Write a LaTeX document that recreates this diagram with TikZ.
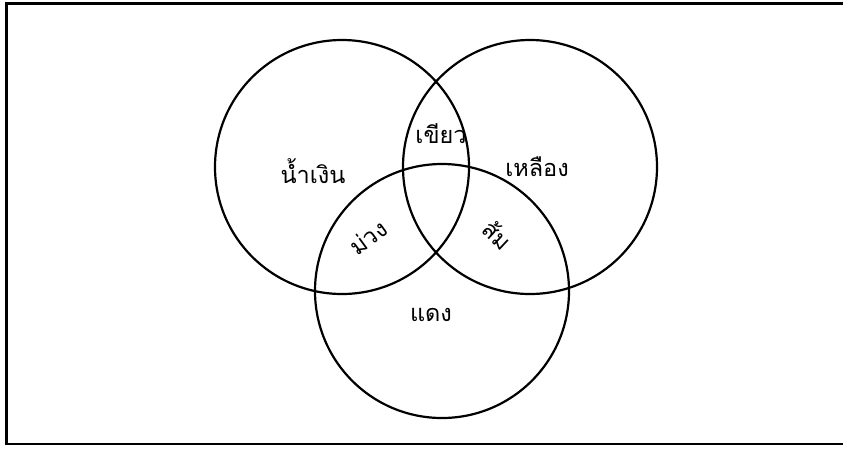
\documentclass[tikz,border=0pt]{standalone}
\usepackage{fontspec}
\newfontfamily\thaifont[Script=Thai]{Loma}
\begin{document}
\begin{tikzpicture}[x=1pt,y=-1pt,
  setc/.style={draw=black,line width=2.2pt},
  lbl/.style={font=\thaifont\fontsize{23.5}{26}\selectfont,inner sep=0pt}]
\useasboundingbox (0,0) rectangle (843,448);
\draw[line width=2.5pt] (849,3.5) -- (6.5,3.5) -- (6.5,444) -- (849,444);
\node[setc,circle,minimum size=254pt] (L) at (342,167) {};
\node[setc,circle,minimum size=254pt] (R) at (530,167) {};
\node[setc,circle,minimum size=254pt] (B) at (442,291) {};
\node[lbl] (blue) at (313,171) {น้ำเงิน};
\node[lbl] (green) at (441,134) {เขียว};
\node[lbl] (yellow) at (537,167) {เหลือง};
\node[lbl] (red) at (431,315) {แดง};
\node[lbl,rotate=36] (purple) at (368,237) {ม่วง};
\node[lbl,rotate=-43] (orange) at (498,235) {ส้ม};
\end{tikzpicture}
\end{document}
